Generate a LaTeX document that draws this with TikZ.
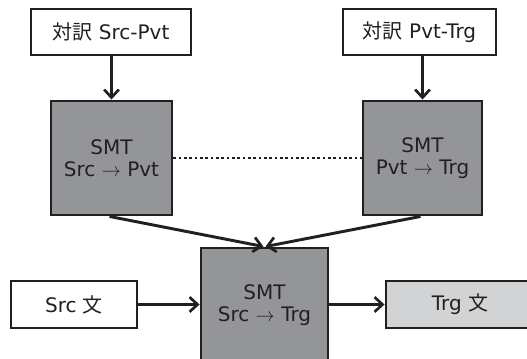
\documentclass[tikz,border=0pt]{standalone}
\usepackage{fontspec}
\setmainfont{DejaVu Sans}
\newfontfamily\jp{Noto Sans CJK JP}
\usetikzlibrary{arrows.meta}
\definecolor{ink}{HTML}{231F20}
\definecolor{smtgray}{HTML}{939598}
\definecolor{outgray}{HTML}{D1D3D4}
\newcommand{\dirto}{ $\rightarrow$ }
\tikzset{
  box/.style={draw=ink, line width=2.2pt, inner sep=0pt, align=center,
    font=\fontsize{15pt}{16.5pt}\selectfont, text=ink},
  plainbox/.style={box, fill=white},
  smtbox/.style={box, fill=smtgray},
  outbox/.style={box, fill=outgray},
  flow/.style={draw=ink, line width=2.2pt,
    -{Straight Barb[length=6pt,width=11pt,line width=2pt]}},
  link/.style={draw=ink, line width=2.2pt, dash pattern=on 2pt off 2pt}
}
\begin{document}
\begin{tikzpicture}[x=0.75pt,y=-0.75pt]
\useasboundingbox (0,0) rectangle (527,359);
\clip (0,0) rectangle (527,359);
\fill[white] (0,0) rectangle (527,359);

% corpora
\node[plainbox, minimum width=160*0.75pt, minimum height=46*0.75pt] (corpA) at (111,32) {{\jp 対訳} Src-Pvt};
\node[plainbox, minimum width=153*0.75pt, minimum height=46*0.75pt] (corpB) at (419.5,32) {{\jp 対訳} Pvt-Trg};

% pivot systems
\node[smtbox, minimum width=121*0.75pt, minimum height=114*0.75pt] (smtA) at (111.5,158) {SMT\\Src\dirto Pvt};
\node[smtbox, minimum width=119*0.75pt, minimum height=114*0.75pt] (smtB) at (422.5,158) {SMT\\Pvt\dirto Trg};

% combined system
\node[smtbox, minimum width=127*0.75pt, minimum height=114*0.75pt] (smtC) at (264.5,305) {SMT\\Src\dirto Trg};

% input and output sentences
\node[plainbox, minimum width=126*0.75pt, minimum height=47*0.75pt] (src) at (74,304.5) {Src {\jp 文}};
\node[outbox, minimum width=148*0.75pt, minimum height=47*0.75pt] (trg) at (460,304.5) {Trg {\jp 文}};

% connectors
\draw[flow] (corpA.south -| smtA) -- (smtA.north);
\draw[flow] (corpB.south -| smtB) -- (smtB.north);
\draw[link] (smtA.east) -- (smtB.west);
\draw[flow] ([xshift=-1.5pt]smtA.south) -- ([xshift=-0.8pt]smtC.north);
\draw[flow] ([xshift=-1.5pt]smtB.south) -- ([xshift=0.8pt]smtC.north);
\draw[flow] (src.east) -- (smtC.west |- src.east);
\draw[flow] (smtC.east |- trg.west) -- (trg.west);
\end{tikzpicture}
\end{document}
